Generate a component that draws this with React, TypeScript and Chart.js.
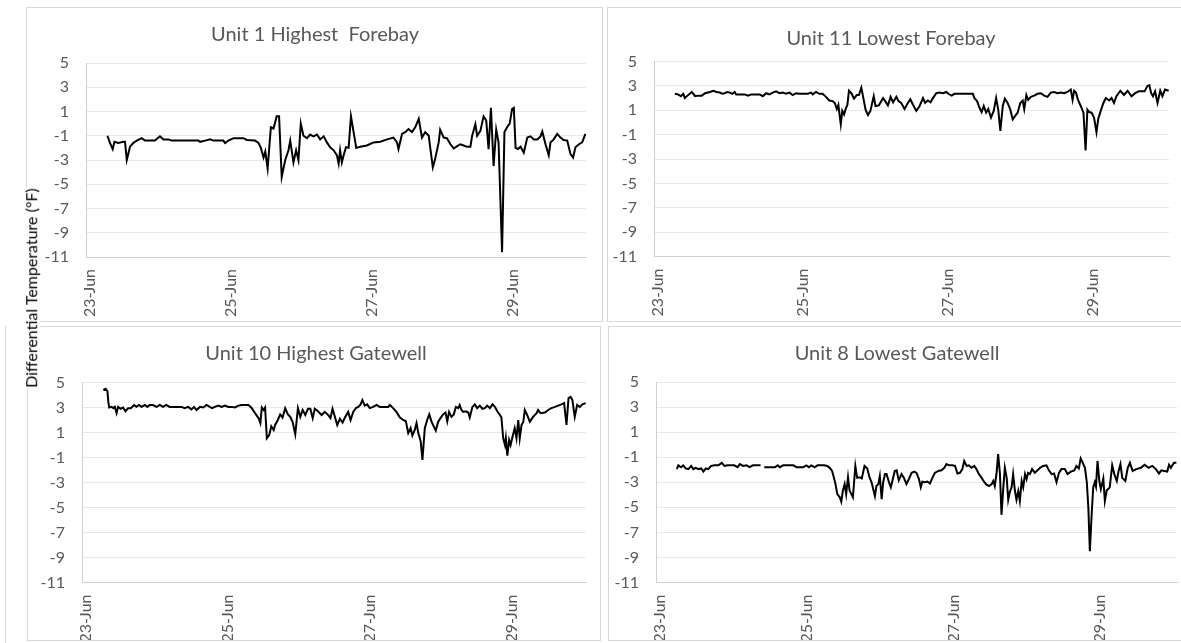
import React, { useEffect, useRef } from "react";
import { Chart, registerables } from "chart.js";

Chart.register(...registerables);

// ---------- axis definitions ----------
const TICK_HOURS = [0, 48, 96, 144];
const TICK_LABELS = ["23-Jun", "25-Jun", "27-Jun", "29-Jun"];
const Y_MIN = -11;
const Y_MAX = 5;
const Y_STEP = 2;
const X_MAX = 170.4;
const Y_TITLE = "Differential Temperature (°F)";

// ---------- Unit 1 Highest Forebay ----------
const U1_HOURS = [7.3, 8.2, 9.1, 9.7, 11.0, 12.7, 13.3, 13.9, 15.0, 16.1, 17.3, 19.0, 20.1, 21.8, 23.5, 25.2, 26.4, 28.1, 29.2, 38.3, 38.9, 40.6, 42.3, 43.4, 46.8, 47.4, 48.5, 50.3, 53.7, 54.8, 57.6, 58.8, 59.6, 60.5, 61.1, 61.9, 63.0, 63.9, 65.0, 65.8, 66.7, 67.9, 69.0, 69.6, 70.7, 71.6, 72.4, 73.2, 74.1, 75.3, 76.4, 77.5, 78.7, 79.8, 81.0, 82.1, 83.2, 84.4, 85.5, 86.1, 86.6, 87.2, 87.8, 88.6, 89.5, 90.3, 91.2, 92.1, 93.5, 95.7, 98.0, 100.3, 102.6, 104.8, 106.0, 106.5, 107.7, 108.8, 109.9, 111.1, 112.2, 113.4, 114.5, 115.6, 116.8, 117.3, 118.2, 119.0, 120.2, 120.7, 121.9, 123.0, 124.2, 125.3, 126.5, 127.6, 128.7, 129.8, 131.0, 131.6, 132.7, 133.3, 134.4, 135.5, 136.4, 137.2, 138.0, 138.9, 139.8, 140.6, 141.8, 142.6, 143.5, 144.4, 145.2, 145.8, 146.4, 147.2, 148.1, 149.2, 150.4, 151.5, 152.6, 153.8, 154.9, 155.5, 156.6, 157.7, 158.3, 159.4, 160.6, 161.7, 162.8, 164.0, 165.1, 166.0, 166.8, 168.0, 169.1, 170.2];
const U1_VALUES = [-1.0, -1.6, -2.1, -1.5, -1.6, -1.5, -1.5, -3.0, -1.9, -1.6, -1.4, -1.2, -1.4, -1.4, -1.4, -1.05, -1.3, -1.3, -1.4, -1.4, -1.5, -1.4, -1.3, -1.4, -1.4, -1.6, -1.4, -1.2, -1.2, -1.35, -1.4, -1.6, -2.0, -2.8, -2.3, -3.7, -0.3, -0.4, 0.6, 0.6, -4.4, -3.0, -2.2, -1.4, -3.2, -2.2, -3.0, 0.0, -1.0, -1.2, -0.9, -1.05, -0.9, -1.3, -1.05, -1.55, -1.95, -2.2, -2.6, -3.3, -2.2, -3.2, -2.6, -1.95, -2.0, 0.6, -0.7, -2.0, -1.9, -1.8, -1.55, -1.5, -1.3, -1.15, -1.55, -2.1, -0.85, -0.7, -0.45, -0.7, -0.3, 0.4, -1.15, -0.7, -1.0, -1.95, -3.6, -2.9, -1.55, -0.5, -1.15, -1.2, -1.7, -2.05, -1.85, -1.7, -1.8, -1.9, -1.9, -1.0, -0.05, -1.0, -0.6, 0.6, 0.25, -2.1, 1.3, -3.5, -0.5, -1.55, -10.6, -0.7, -0.3, 0.0, 1.2, 1.3, -2.0, -2.1, -1.9, -2.4, -1.15, -1.05, -1.3, -1.3, -1.05, -0.65, -1.7, -2.6, -1.55, -1.3, -0.85, -1.15, -1.35, -1.4, -2.5, -2.8, -1.95, -1.7, -1.55, -0.85];

// ---------- Unit 11 Lowest Forebay ----------
const U11_HOURS = [6.9, 8.0, 8.9, 9.7, 10.2, 11.1, 12.5, 13.6, 14.7, 15.8, 16.9, 18.5, 19.6, 20.7, 21.8, 22.6, 23.4, 24.2, 25.1, 25.9, 26.7, 27.2, 30.0, 31.1, 32.2, 34.9, 36.0, 37.1, 38.2, 39.3, 40.4, 41.5, 42.6, 43.7, 44.8, 45.9, 47.0, 48.1, 50.9, 52.0, 52.5, 53.6, 54.7, 55.8, 56.9, 58.0, 59.1, 59.8, 60.5, 61.0, 61.8, 62.3, 62.9, 63.4, 64.0, 64.5, 65.3, 66.2, 67.1, 67.8, 68.6, 69.2, 70.0, 70.8, 71.6, 72.7, 73.3, 74.4, 75.8, 76.5, 77.4, 78.3, 79.1, 80.2, 80.9, 81.8, 82.9, 84.0, 84.8, 85.7, 86.8, 87.9, 89.0, 89.7, 90.6, 91.5, 92.3, 93.4, 94.5, 95.6, 96.7, 97.4, 98.5, 99.4, 105.5, 106.0, 106.9, 107.7, 108.4, 109.1, 109.9, 110.6, 111.5, 112.4, 113.2, 113.9, 114.6, 115.4, 116.1, 117.0, 117.9, 118.7, 119.4, 120.3, 121.2, 122.0, 122.5, 123.2, 123.8, 124.7, 125.8, 126.9, 128.0, 129.1, 130.2, 131.3, 132.4, 133.5, 134.6, 135.7, 136.8, 137.9, 138.5, 139.0, 139.6, 140.3, 141.2, 142.1, 142.8, 143.4, 144.0, 144.8, 145.6, 146.4, 147.0, 147.8, 148.7, 149.5, 150.6, 151.4, 152.2, 153.0, 154.3, 155.5, 156.7, 158.0, 159.2, 160.4, 162.3, 163.3, 163.9, 164.5, 165.1, 165.8, 166.6, 167.5, 168.2, 169.1, 170.3];
const U11_VALUES = [2.35, 2.3, 2.15, 2.35, 2.0, 2.2, 2.5, 2.15, 2.2, 2.2, 2.4, 2.5, 2.6, 2.5, 2.45, 2.35, 2.4, 2.5, 2.45, 2.35, 2.5, 2.3, 2.3, 2.2, 2.3, 2.3, 2.15, 2.4, 2.3, 2.45, 2.55, 2.4, 2.45, 2.35, 2.45, 2.25, 2.4, 2.35, 2.35, 2.45, 2.3, 2.5, 2.35, 2.35, 2.1, 1.8, 1.75, 1.6, 1.1, 1.45, -0.15, 0.95, 0.65, 1.1, 1.45, 2.6, 2.4, 1.95, 2.25, 2.25, 2.85, 2.1, 1.05, 0.6, 0.95, 2.15, 1.35, 1.4, 2.0, 1.75, 1.4, 2.1, 1.65, 2.1, 1.75, 1.6, 1.1, 1.6, 1.9, 1.45, 0.95, 1.35, 2.0, 1.6, 1.8, 1.65, 2.0, 2.4, 2.45, 2.4, 2.5, 2.35, 2.2, 2.35, 2.35, 2.0, 1.75, 1.2, 0.85, 1.35, 0.8, 1.1, 0.4, 0.95, 2.0, 1.05, -0.7, 1.35, 1.95, 1.6, 1.05, 0.25, 0.5, 0.8, 1.6, 1.8, 1.1, 2.25, 1.85, 2.1, 2.2, 2.35, 2.4, 2.2, 2.1, 2.45, 2.5, 2.4, 2.45, 2.4, 2.5, 2.7, 1.85, 2.6, 2.45, 1.85, 1.35, 0.8, -2.3, 1.05, 0.85, 0.8, 0.4, -0.8, 0.3, 0.95, 1.6, 2.0, 1.8, 2.0, 1.6, 2.15, 2.6, 2.25, 2.6, 2.15, 2.4, 2.55, 2.55, 3.0, 3.05, 2.4, 2.15, 2.55, 1.6, 2.6, 2.15, 2.7, 2.6];

// ---------- Unit 10 Highest Gatewell ----------
const U10_HOURS = [7.2, 8.0, 8.6, 8.9, 9.2, 10.0, 10.6, 11.1, 11.7, 12.2, 13.1, 13.9, 14.7, 15.6, 16.5, 17.6, 18.4, 19.3, 20.1, 21.3, 22.1, 22.9, 24.0, 25.2, 26.3, 27.4, 28.5, 29.6, 30.8, 33.6, 34.7, 35.9, 37.0, 37.9, 38.7, 39.9, 41.0, 42.1, 43.2, 44.0, 44.9, 46.1, 47.2, 48.3, 49.5, 50.6, 51.7, 52.9, 54.0, 56.3, 57.4, 58.5, 59.7, 60.3, 60.8, 61.4, 61.9, 62.5, 63.3, 64.0, 64.8, 65.3, 66.2, 67.0, 67.8, 68.7, 69.6, 70.4, 71.2, 72.1, 73.0, 73.8, 74.6, 75.5, 76.4, 77.2, 78.0, 78.7, 79.8, 81.0, 82.1, 83.2, 84.0, 84.7, 85.5, 86.3, 87.2, 88.1, 88.9, 90.0, 90.8, 91.7, 92.6, 93.4, 94.2, 94.8, 95.6, 96.4, 97.3, 98.4, 99.6, 100.7, 103.5, 104.1, 105.2, 106.3, 107.5, 108.6, 109.5, 110.3, 111.1, 111.7, 112.5, 113.1, 113.7, 114.5, 115.1, 115.9, 116.7, 117.4, 118.2, 119.0, 119.6, 120.4, 121.2, 122.1, 122.9, 123.5, 124.1, 124.9, 125.7, 126.4, 127.2, 127.7, 128.3, 128.9, 129.8, 130.6, 131.1, 132.0, 132.8, 133.6, 134.5, 135.4, 136.2, 137.0, 137.9, 138.8, 139.6, 140.4, 141.3, 141.8, 142.4, 143.0, 143.3, 143.8, 144.4, 144.9, 145.6, 146.3, 146.9, 147.5, 148.0, 148.6, 149.2, 149.7, 150.5, 151.4, 152.5, 153.7, 154.2, 155.0, 156.5, 157.6, 158.7, 159.9, 161.0, 162.1, 163.0, 163.8, 164.5, 165.2, 165.8, 166.6, 167.4, 168.3, 169.2, 170.3];
const U10_VALUES = [4.4, 4.5, 4.3, 3.45, 3.0, 3.05, 2.95, 3.05, 2.55, 3.05, 2.9, 3.0, 2.7, 2.95, 2.95, 3.2, 3.05, 3.2, 3.05, 3.2, 3.05, 3.2, 3.2, 3.05, 3.2, 3.05, 3.2, 3.05, 3.05, 3.05, 2.95, 3.05, 2.85, 3.05, 2.8, 3.05, 3.0, 3.2, 3.05, 2.95, 3.05, 3.15, 3.05, 3.15, 3.05, 3.05, 3.0, 3.15, 3.2, 3.2, 2.95, 2.55, 2.15, 1.75, 3.0, 2.8, 3.0, 0.55, 0.8, 1.5, 1.2, 1.6, 2.0, 2.45, 2.2, 2.95, 2.45, 2.25, 1.85, 0.85, 2.95, 2.25, 2.8, 2.4, 2.9, 2.9, 2.15, 2.9, 2.7, 2.4, 2.65, 2.4, 2.15, 2.9, 2.25, 1.6, 2.1, 1.8, 2.2, 2.65, 2.0, 2.65, 2.95, 3.05, 3.25, 3.6, 3.15, 3.25, 2.95, 3.05, 3.2, 3.05, 3.05, 3.2, 2.95, 2.65, 2.2, 2.0, 1.9, 0.95, 1.35, 0.75, 1.2, 1.75, 0.95, 0.3, -1.2, 1.35, 2.0, 2.45, 1.85, 1.45, 1.15, 1.85, 2.15, 2.45, 2.6, 1.9, 2.65, 2.25, 2.45, 3.05, 2.95, 3.2, 2.8, 2.65, 2.7, 2.6, 2.2, 3.05, 3.25, 2.95, 3.15, 2.9, 2.95, 3.15, 2.95, 3.25, 3.05, 2.7, 2.4, 2.2, 0.55, 0.0, 0.55, -0.85, 0.4, 0.0, 0.7, 1.35, 0.55, 2.0, 0.55, 1.6, 1.85, 2.8, 2.4, 1.85, 2.25, 2.55, 2.8, 2.55, 2.6, 2.8, 2.95, 3.05, 3.15, 3.25, 3.35, 1.6, 3.75, 3.85, 3.6, 2.25, 3.2, 3.05, 3.25, 3.35];

// ---------- Unit 8 Lowest Gatewell (one missing reading near 34.8 h) ----------
const U8_HOURS = [6.8, 7.3, 8.2, 8.9, 9.7, 10.6, 11.5, 12.2, 13.0, 13.9, 14.8, 15.5, 16.3, 17.1, 18.0, 19.1, 20.4, 21.5, 22.4, 23.4, 24.5, 25.6, 26.7, 27.4, 28.5, 29.6, 30.6, 31.7, 33.4, 34.2, 34.8, 35.4, 37.3, 38.9, 39.8, 40.5, 41.6, 42.7, 43.8, 44.9, 46.0, 47.0, 48.1, 49.2, 50.0, 50.8, 51.9, 52.8, 53.9, 55.0, 56.0, 56.8, 57.6, 58.2, 58.7, 59.3, 60.1, 60.6, 61.1, 61.7, 62.2, 62.8, 63.3, 63.9, 64.4, 65.2, 65.8, 66.6, 67.3, 68.2, 69.1, 69.8, 70.5, 71.6, 72.1, 72.7, 73.2, 73.8, 74.3, 74.9, 75.4, 76.2, 76.8, 77.6, 78.1, 78.7, 79.4, 80.3, 81.1, 81.9, 82.7, 83.6, 84.5, 85.2, 86.0, 86.6, 87.1, 87.9, 88.8, 89.6, 90.4, 91.2, 92.3, 93.4, 94.3, 95.0, 95.8, 96.9, 97.8, 98.6, 99.4, 100.2, 100.8, 101.6, 102.3, 103.2, 104.1, 104.8, 105.6, 106.5, 107.4, 108.1, 108.9, 109.8, 110.3, 110.8, 111.4, 111.9, 112.5, 113.0, 113.6, 114.1, 114.7, 115.2, 115.7, 116.3, 116.8, 117.4, 117.9, 118.5, 119.0, 119.6, 120.1, 120.7, 121.2, 121.7, 122.3, 123.0, 123.9, 124.8, 125.6, 126.6, 127.7, 128.5, 129.4, 130.2, 131.0, 131.8, 132.6, 133.7, 134.6, 135.7, 136.8, 137.5, 138.3, 138.9, 139.4, 140.3, 140.9, 141.4, 141.9, 142.5, 143.0, 143.5, 143.9, 144.4, 145.0, 145.5, 146.3, 146.8, 147.4, 147.9, 148.4, 149.2, 149.9, 150.7, 151.3, 151.9, 152.5, 153.5, 154.3, 155.0, 155.9, 157.1, 158.6, 159.8, 161.1, 162.3, 163.5, 164.5, 165.3, 166.2, 167.2, 167.8, 168.4, 169.4, 170.2];
const U8_VALUES = [-1.95, -1.65, -1.8, -1.65, -1.9, -1.95, -1.7, -1.95, -1.85, -1.95, -1.9, -2.15, -1.9, -1.95, -1.7, -1.65, -1.65, -1.45, -1.7, -1.65, -1.65, -1.65, -1.8, -1.55, -1.7, -1.65, -1.8, -1.65, -1.65, -1.65, null, -1.8, -1.8, -1.8, -1.65, -1.8, -1.65, -1.65, -1.65, -1.65, -1.8, -1.8, -1.8, -1.65, -1.8, -1.65, -1.8, -1.65, -1.65, -1.65, -1.7, -1.85, -2.1, -2.65, -3.15, -3.95, -4.2, -4.55, -3.7, -3.15, -3.95, -2.6, -3.65, -3.95, -4.2, -1.7, -2.65, -2.6, -2.7, -1.7, -1.9, -2.6, -3.0, -4.1, -3.3, -3.15, -2.5, -4.35, -3.0, -2.35, -2.35, -3.0, -3.4, -2.6, -2.1, -2.05, -2.85, -2.35, -2.65, -3.15, -2.75, -2.25, -2.15, -2.25, -2.75, -3.4, -2.95, -3.0, -2.95, -3.1, -2.65, -2.25, -2.1, -2.05, -1.85, -1.55, -1.65, -1.65, -1.7, -2.3, -2.25, -1.95, -1.3, -1.7, -1.65, -1.85, -1.7, -1.95, -2.35, -2.65, -3.0, -3.2, -3.3, -3.15, -2.9, -3.3, -2.25, -0.75, -2.35, -5.6, -3.4, -1.85, -2.65, -4.4, -3.8, -3.4, -2.35, -3.7, -4.4, -3.7, -4.5, -2.9, -3.4, -2.35, -2.75, -2.25, -2.35, -1.95, -2.25, -2.05, -1.85, -1.7, -1.65, -2.05, -2.35, -2.3, -3.0, -2.25, -1.95, -1.95, -2.35, -2.15, -2.05, -1.7, -1.9, -1.1, -1.35, -1.85, -3.0, -5.0, -8.5, -5.5, -3.4, -3.0, -3.35, -1.3, -2.9, -3.55, -2.7, -4.5, -3.65, -3.55, -3.4, -1.65, -2.35, -2.9, -2.1, -1.55, -2.65, -2.9, -1.85, -1.45, -2.1, -1.95, -1.85, -1.6, -1.85, -1.7, -1.95, -2.3, -2.05, -2.1, -2.15, -1.6, -1.85, -1.45, -1.45];

const FONT = "Lato, 'Open Sans', sans-serif";
const TEXT_GREY = "#595959";

type PanelSpec = {
  title: string;
  hours: number[];
  values: (number | null)[];
  box: [number, number, number, number]; // canvas left, top, width, height
  area: [number, number, number, number]; // plot left, top, right, bottom
  titleAt: [number, number];
  frame: [number, number, number, number];
};

const PANELS: PanelSpec[] = [
  { title: "Unit 1 Highest  Forebay", hours: U1_HOURS, values: U1_VALUES, box: [27, 8, 575, 313], area: [86, 63, 586, 257], titleAt: [315, 33], frame: [26, 7, 577, 315] },
  { title: "Unit 11 Lowest Forebay", hours: U11_HOURS, values: U11_VALUES, box: [608, 8, 573, 313], area: [654, 61.5, 1169, 256.5], titleAt: [891, 37], frame: [607, 7, 580, 315] },
  { title: "Unit 10 Highest Gatewell", hours: U10_HOURS, values: U10_VALUES, box: [28, 327, 572, 313], area: [82, 382.5, 586, 582.5], titleAt: [316, 352], frame: [27, 326, 574, 315] },
  { title: "Unit 8 Lowest Gatewell", hours: U8_HOURS, values: U8_VALUES, box: [609, 327, 572, 313], area: [656, 382, 1177, 582.5], titleAt: [897, 352], frame: [608, 326, 580, 315] },
];

function Panel({ spec }: { spec: PanelSpec }) {
  const ref = useRef<HTMLCanvasElement>(null);
  const [cl, ct, cw, ch] = spec.box;
  useEffect(() => {
    const [L, T, R, B] = spec.area;
    const points = spec.hours.map((h, i) => ({ x: h, y: spec.values[i] }));
    const chart = new Chart(ref.current as HTMLCanvasElement, {
      type: "line",
      data: {
        datasets: [
          {
            data: points as any,
            borderColor: "#000000",
            borderWidth: 2,
            pointRadius: 0,
            tension: 0,
            fill: false,
            spanGaps: false,
          },
        ],
      },
      options: {
        animation: false,
        responsive: false,
        maintainAspectRatio: false,
        events: [],
        layout: { padding: { left: 0, top: T - ct, right: cl + cw - R, bottom: 0 } },
        plugins: {
          legend: { display: false },
          title: { display: false },
          tooltip: { enabled: false },
        },
        scales: {
          x: {
            type: "linear",
            min: 0,
            max: X_MAX,
            afterFit: (s: any) => {
              s.height = ct + ch - B;
            },
            afterBuildTicks: (s: any) => {
              s.ticks = TICK_HOURS.map((v) => ({ value: v }));
            },
            ticks: {
              autoSkip: false,
              minRotation: 90,
              maxRotation: 90,
              padding: 12,
              labelOffset: 4,
              color: TEXT_GREY,
              font: { family: FONT, size: 16 },
              callback: (v: any) => {
                const i = TICK_HOURS.indexOf(Number(v));
                return i >= 0 ? TICK_LABELS[i] : "";
              },
            },
            grid: { display: false, drawTicks: false },
            border: { display: true, color: "#d0d0d0", width: 1 },
          },
          y: {
            min: Y_MIN,
            max: Y_MAX,
            afterFit: (s: any) => {
              s.width = L - cl;
            },
            ticks: {
              stepSize: Y_STEP,
              padding: 17,
              color: TEXT_GREY,
              font: { family: FONT, size: 16 },
            },
            grid: { color: "#e9e9e9", drawTicks: false, lineWidth: 1 },
            border: { display: true, color: "#d0d0d0", width: 1 },
          },
        },
      },
    });
    return () => chart.destroy();
  }, []);
  const [fl, ft, fw, fh] = spec.frame;
  return (
    <>
      <div
        style={{
          position: "absolute",
          left: fl,
          top: ft,
          width: fw,
          height: fh,
          border: "1px solid #d9d9d9",
          boxSizing: "border-box",
        }}
      />
      <canvas
        ref={ref}
        width={cw}
        height={ch}
        style={{ position: "absolute", left: cl, top: ct, width: cw, height: ch }}
      />
      <div
        style={{
          position: "absolute",
          left: spec.titleAt[0],
          top: spec.titleAt[1],
          transform: "translate(-50%, -50%)",
          whiteSpace: "pre",
          fontFamily: FONT,
          fontSize: 20,
          color: TEXT_GREY,
          lineHeight: 1,
        }}
      >
        {spec.title}
      </div>
    </>
  );
}

export default function App() {
  return (
    <div
      style={{
        position: "fixed",
        left: 0,
        top: 0,
        width: 1181,
        height: 643,
        background: "#ffffff",
        overflow: "hidden",
      }}
    >
      <div style={{ position: "absolute", left: 5, top: 326, width: 1, height: 317, background: "#d9d9d9" }} />
      {PANELS.map((p, i) => (
        <Panel key={i} spec={p} />
      ))}
      <div
        style={{
          position: "absolute",
          left: 31,
          top: 288,
          transform: "translate(-50%, -50%) rotate(-90deg)",
          whiteSpace: "nowrap",
          fontFamily: FONT,
          fontSize: 16,
          color: "#000000",
          background: "#ffffff",
          lineHeight: 1.1,
        }}
      >
        {Y_TITLE}
      </div>
    </div>
  );
}
